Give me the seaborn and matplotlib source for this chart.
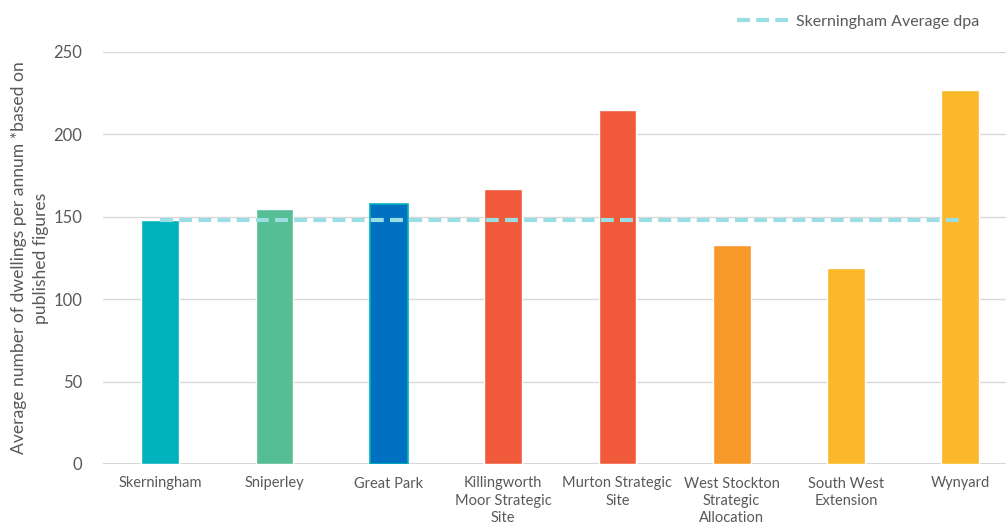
import matplotlib
matplotlib.use("Agg")
import matplotlib.pyplot as plt
import seaborn as sns
import pandas as pd

categories = ["Skerningham", "Sniperley", "Great Park", "Killingworth\nMoor Strategic\nSite",
              "Murton Strategic\nSite", "West Stockton\nStrategic\nAllocation", "South West\nExtension", "Wynyard"]
values = [148, 155, 158, 167, 215, 133, 119, 227]
avg_value = 148
avg_label = "Skerningham Average dpa"
bar_colors = ["#00B2BC", "#55BE94", "#0070C0", "#F05A3A", "#F05A3A", "#F7992A", "#FBB829", "#FBB829"]
y_ticks = [0, 50, 100, 150, 200, 250]
y_label = "Average number of dwellings per annum *based on\npublished figures"

sns.set_theme(style="white")
plt.rcParams['font.family'] = ['Lato', 'DejaVu Sans']

df = pd.DataFrame({"site": categories, "dpa": values})

fig = plt.figure(figsize=(10.08, 5.28), dpi=100)
ax = fig.add_axes([103/1008, 1 - 464/528, (1006-103)/1008, (464-52)/528])

sns.barplot(data=df, x="site", y="dpa", hue="site", palette=bar_colors, width=0.33,
            legend=False, ax=ax, saturation=1, zorder=3)
# Great Park bar has a cyan outline
ax.patches[2].set_edgecolor("#00B2BC")
ax.patches[2].set_linewidth(1.2)

sns.lineplot(x=list(range(len(categories))), y=[avg_value] * len(categories), ax=ax,
             color="#9ADDE2", linewidth=3, dashes=(3.1, 1.5), zorder=4, label=avg_label)

ax.set_ylim(0, 250)
ax.set_xlim(-0.5, 7.4)
ax.set_yticks(y_ticks)
ax.yaxis.grid(True, color="#D9D9D9", linewidth=1, zorder=0)
ax.axhline(0, color="#D0D0D0", linewidth=1.2, zorder=2)
for s in ax.spines.values():
    s.set_visible(False)
ax.tick_params(axis="y", labelsize=12, colors="#595959", length=0, pad=15)
ax.tick_params(axis="x", labelsize=10.5, colors="#595959", length=0, pad=9)
for t in ax.get_xticklabels():
    t.set_linespacing(1.3)
ax.set_xlabel("")
ax.set_ylabel(y_label, fontsize=12.6, color="#595959", labelpad=3, linespacing=1.5)

leg = ax.legend(loc="upper right", bbox_to_anchor=(994/1008, 1.0), bbox_transform=fig.transFigure,
                frameon=False, fontsize=11.5, handlelength=3.2, handletextpad=0.5)
for t in leg.get_texts():
    t.set_color("#595959")

fig.savefig("out.png", dpi=100)
